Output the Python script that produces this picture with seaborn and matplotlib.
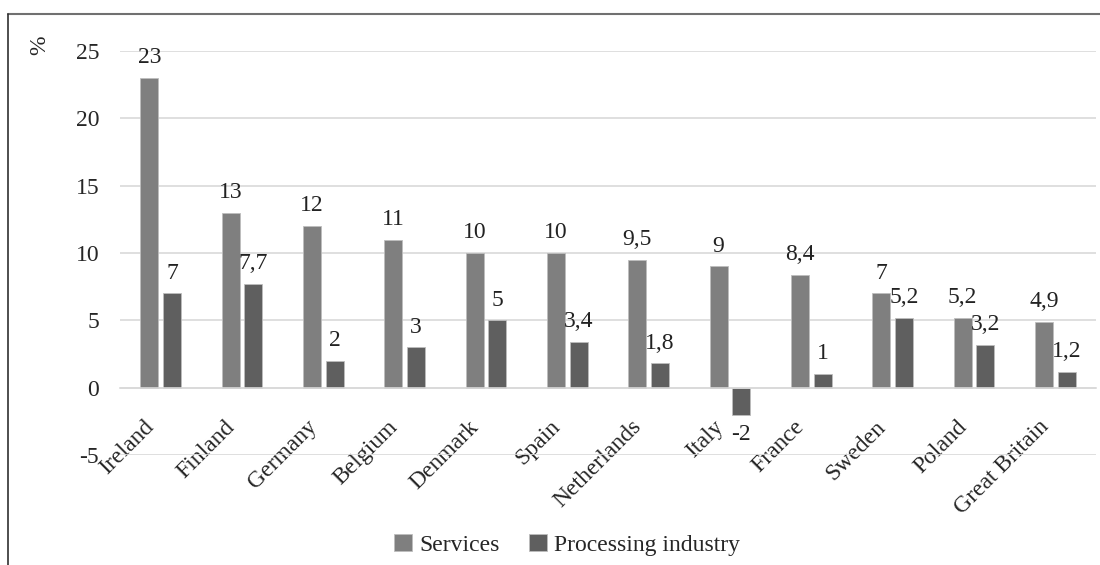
import pandas as pd
import numpy as np
import matplotlib
matplotlib.use('Agg')
import matplotlib.pyplot as plt
import matplotlib.transforms as mtransforms
import seaborn as sns

countries = ['Ireland', 'Finland', 'Germany', 'Belgium', 'Denmark', 'Spain',
             'Netherlands', 'Italy', 'France', 'Sweden', 'Poland', 'Great Britain']
services = [23, 13, 12, 11, 10, 10, 9.5, 9, 8.4, 7, 5.2, 4.9]
processing = [7, 7.7, 2, 3, 5, 3.4, 1.8, -2, 1, 5.2, 3.2, 1.2]
series = ['Services', 'Processing industry']

df = pd.DataFrame({'country': countries * 2,
                   'sector': [series[0]] * len(countries) + [series[1]] * len(countries),
                   'value': services + processing})

sns.set_style('white')
plt.rcParams['font.family'] = ['Liberation Serif', 'DejaVu Serif']
plt.rcParams['axes.unicode_minus'] = False
fs = 17

fig = plt.figure(figsize=(11, 5.65), dpi=100)
ax = fig.add_axes([120 / 1100, 1 - 455 / 565, (1096 - 120) / 1100, (455 - 51) / 565])

sns.barplot(data=df, x='country', y='value', hue='sector', order=countries,
            hue_order=series, palette=['#7f7f7f', '#5f5f5f'], width=0.56, gap=0.2,
            edgecolor='#bdbdbd', linewidth=0.6, ax=ax, legend=True)

for cont, vals in zip(ax.containers, [services, processing]):
    labs = [f'{v:g}'.replace('.', ',') for v in vals]
    ax.bar_label(cont, labels=labs, padding=7, fontsize=fs, color='#222222')

ax.set_ylim(-5, 25)
ax.set_yticks(range(-5, 26, 5))
ax.set_xlim(-0.5, len(countries) - 0.5)
ax.yaxis.grid(True, color='#d9d9d9', linewidth=1.2)
ax.set_axisbelow(True)
for s in ['top', 'right', 'left']:
    ax.spines[s].set_visible(False)
ax.spines['bottom'].set_position(('data', 0))
ax.spines['bottom'].set_color('#d9d9d9')
ax.spines['bottom'].set_linewidth(1.2)
ax.tick_params(axis='x', length=0, pad=26, labelsize=fs)
ax.tick_params(axis='y', length=0, pad=15, labelsize=fs)
shift = mtransforms.ScaledTranslation(-10 / 100, 0, fig.dpi_scale_trans)
for lab in ax.get_xticklabels():
    lab.set_rotation(45)
    lab.set_ha('right')
    lab.set_va('center')
    lab.set_rotation_mode('anchor')
    lab.set_transform(lab.get_transform() + shift)
ax.set_xlabel('')
ax.set_ylabel('')
fig.text(40 / 1100, 1 - 45 / 565, '%', rotation=90, fontsize=fs, ha='center', va='center')

handles, labels = ax.get_legend_handles_labels()
ax.get_legend().remove()
fig.legend(handles, labels, loc='center', bbox_to_anchor=(567 / 1100, 1 - 545 / 565),
           ncol=2, frameon=False, fontsize=fs, handlelength=0.75, handleheight=0.75,
           columnspacing=1.25, handletextpad=0.3)

# figure border (top and left visible)
fig.add_artist(plt.Line2D([8 / 1100, 1], [1 - 14 / 565] * 2, color='#707070', lw=1.5))
fig.add_artist(plt.Line2D([8 / 1100] * 2, [0, 1 - 14 / 565], color='#303030', lw=1.2))

fig.savefig('out.png', dpi=100)
